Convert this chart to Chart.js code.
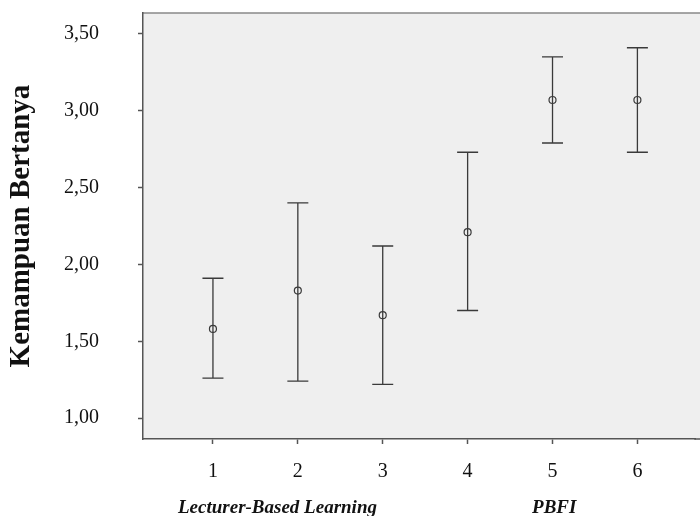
<!DOCTYPE html>
<html>
<head>
<meta charset="utf-8">
<script src="https://cdn.jsdelivr.net/npm/chart.js@4.4.1/dist/chart.umd.min.js"></script>
<style>
  html, body { margin: 0; background: #fff; }
</style>
</head>
<body>
<canvas id="chart" width="700" height="516"></canvas>
<script>
// group numbers, group means and the ends of each error bar
const groups = [1, 2, 3, 4, 5, 6];
const means = [1.58, 1.83, 1.67, 2.21, 3.07, 3.07];
const lower = [1.26, 1.24, 1.22, 1.70, 2.79, 2.73];
const upper = [1.91, 2.40, 2.12, 2.73, 3.35, 3.41];
const yTicks = [1.0, 1.5, 2.0, 2.5, 3.0, 3.5];
const groupLabels = ['Lecturer-Based Learning', 'PBFI'];
const groupLabelAt = [1.76, 5.02];

const serif = "'Liberation Serif', 'Times New Roman', serif";
const ink = '#3a3a3a';

function noPad(s) {
    s.paddingTop = 0;
    s.paddingBottom = 0;
    s.paddingLeft = 0;
    s.paddingRight = 0;
}

// grey plot panel runs to the right edge of the picture
const plotFrame = {
    id: 'plotFrame',
    beforeDraw(chart) {
        const { ctx, chartArea: a } = chart;
        ctx.save();
        ctx.fillStyle = '#efefef';
        ctx.fillRect(a.left, a.top, chart.width - a.left, a.bottom - a.top);
        ctx.strokeStyle = '#888';
        ctx.lineWidth = 1.5;
        ctx.beginPath();
        ctx.moveTo(a.left, a.top);
        ctx.lineTo(chart.width, a.top);
        ctx.stroke();
        ctx.restore();
    },
    afterDraw(chart) {
        const { ctx, chartArea: a } = chart;
        ctx.save();
        ctx.strokeStyle = '#555';
        ctx.lineWidth = 1.5;
        ctx.beginPath();
        ctx.moveTo(a.right - 1, a.bottom);
        ctx.lineTo(chart.width, a.bottom);
        ctx.stroke();
        ctx.restore();
    }
};

const errorBars = {
    id: 'errorBars',
    beforeDatasetsDraw(chart) {
        const { ctx, scales: { x, y } } = chart;
        ctx.save();
        ctx.strokeStyle = ink;
        ctx.lineWidth = 1.3;
        groups.forEach((g, i) => {
            const px = x.getPixelForValue(g);
            const lo = y.getPixelForValue(lower[i]);
            const hi = y.getPixelForValue(upper[i]);
            ctx.beginPath();
            ctx.moveTo(px, lo);
            ctx.lineTo(px, hi);
            ctx.moveTo(px - 10.5, lo);
            ctx.lineTo(px + 10.5, lo);
            ctx.moveTo(px - 10.5, hi);
            ctx.lineTo(px + 10.5, hi);
            ctx.stroke();
        });
        ctx.restore();
    }
};

const groupNames = {
    id: 'groupNames',
    afterDraw(chart) {
        const { ctx, scales: { x } } = chart;
        ctx.save();
        ctx.fillStyle = '#111';
        ctx.font = `italic bold 19px ${serif}`;
        ctx.textAlign = 'center';
        ctx.textBaseline = 'alphabetic';
        groupLabels.forEach((t, i) => {
            ctx.fillText(t, x.getPixelForValue(groupLabelAt[i]), 513);
        });
        ctx.restore();
    }
};

new Chart(document.getElementById('chart'), {
    type: 'scatter',
    data: {
        datasets: [{
            data: groups.map((g, i) => ({ x: g, y: means[i] })),
            pointStyle: 'circle',
            pointRadius: 3.5,
            pointHoverRadius: 3.5,
            borderColor: ink,
            backgroundColor: 'rgba(0,0,0,0)',
            pointBorderWidth: 1.2
        }]
    },
    options: {
        responsive: false,
        animation: false,
        devicePixelRatio: 1,
        layout: { padding: { top: 13, right: 0, bottom: 0, left: 0 } },
        plugins: {
            legend: { display: false },
            tooltip: { enabled: false }
        },
        scales: {
            x: {
                type: 'linear',
                min: 0.176,
                max: 6.682,
                afterBuildTicks: (s) => { s.ticks = groups.map((v) => ({ value: v })); },
                afterFit: (s) => { s.height = 77; noPad(s); },
                border: { display: true, color: '#555', width: 1.5 },
                grid: { drawOnChartArea: false, drawTicks: true, tickLength: 5, color: '#555', tickWidth: 1.5 },
                ticks: {
                    color: '#111',
                    padding: 16,
                    font: { family: serif, size: 20 },
                    callback: (v) => String(v)
                }
            },
            y: {
                min: 0.864,
                max: 3.636,
                afterBuildTicks: (s) => { s.ticks = yTicks.map((v) => ({ value: v })); },
                afterFit: (s) => { s.width = 143; noPad(s); },
                border: { display: true, color: '#555', width: 1.5 },
                grid: { drawOnChartArea: false, drawTicks: true, tickLength: 5, color: '#555', tickWidth: 1.5 },
                ticks: {
                    color: '#111',
                    padding: 39,
                    font: { family: serif, size: 20 },
                    callback: (v) => v.toFixed(2).replace('.', ',')
                },
                title: {
                    display: true,
                    text: 'Kemampuan Bertanya',
                    color: '#111',
                    font: { family: serif, size: 29, weight: 'bold' },
                    padding: { top: 4, bottom: 0 }
                }
            }
        }
    },
    plugins: [plotFrame, errorBars, groupNames]
});
</script>
</body>
</html>
